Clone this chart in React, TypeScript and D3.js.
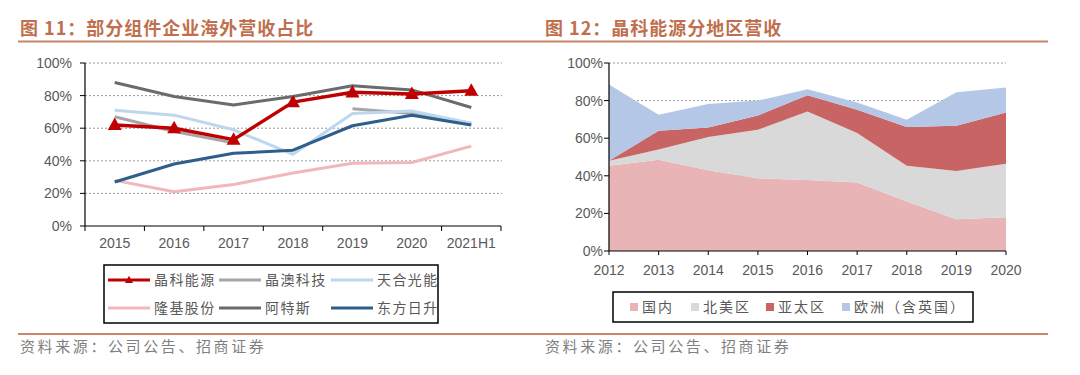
import React from "react";
import * as d3 from "d3";

const leftYears = ["2015", "2016", "2017", "2018", "2019", "2020", "2021H1"];
const jinko = [62, 60, 53, 76, 82, 81, 83];
const jaSolar: (number | null)[] = [67, 58, 51, null, 72, 69, 63];
const trina = [71, 68, 59, 44, 69, 70.5, 63];
const longi = [28, 21, 25.5, 32.5, 38.5, 39, 49];
const canadian = [88, 79.5, 74.3, 79.5, 86, 83.5, 72.7];
const risen = [27, 38, 44.6, 46.5, 61.5, 68, 62];
const leftTicks = [0, 20, 40, 60, 80, 100];

const rightYears = ["2012", "2013", "2014", "2015", "2016", "2017", "2018", "2019", "2020"];
const domestic = [45.3, 48.5, 43, 38.7, 37.8, 36.4, 26.3, 16.9, 18];
const northAmerica = [2.7, 5.5, 17.6, 25.8, 36.4, 26.3, 19, 25.7, 28.4];
const asiaPacific = [0, 10, 5.1, 7.6, 8.6, 12.4, 20.6, 24, 27.3];
const europe = [40.5, 8.5, 12.5, 7.9, 3.3, 3.9, 3.9, 17.9, 13.3];
const rightTicks = [0, 20, 40, 60, 80, 100];

const lineSeries = [
  { name: "晶澳科技", data: jaSolar, color: "#a6a6a6", width: 3 },
  { name: "天合光能", data: trina, color: "#bdd7ee", width: 3 },
  { name: "隆基股份", data: longi, color: "#f2b7b8", width: 3 },
  { name: "阿特斯", data: canadian, color: "#6b6b6b", width: 3 },
  { name: "东方日升", data: risen, color: "#2e5e8c", width: 3 },
  { name: "晶科能源", data: jinko, color: "#c00000", width: 3.5 },
];

const legendLeft = [
  { name: "晶科能源", color: "#c00000", tri: true },
  { name: "晶澳科技", color: "#a6a6a6" },
  { name: "天合光能", color: "#bdd7ee" },
  { name: "隆基股份", color: "#f2b7b8" },
  { name: "阿特斯", color: "#6b6b6b" },
  { name: "东方日升", color: "#2e5e8c" },
];

const areaSeries = [
  { name: "国内", data: domestic, color: "#e8b4b5" },
  { name: "北美区", data: northAmerica, color: "#d9d9d9" },
  { name: "亚太区", data: asiaPacific, color: "#c96464" },
  { name: "欧洲（含英国）", data: europe, color: "#b4c7e7" },
];

const TITLE = "#bf6f4e";
const AXIS_TXT = "#595959";
const LATIN = "'Liberation Sans', Arial, sans-serif";
const CJK = "'Noto Sans CJK SC', sans-serif";

export default function App() {
  const lx = d3.scaleBand<string>().domain(leftYears).range([85, 501]);
  const ly = d3.scaleLinear().domain([0, 100]).range([226, 63]);
  const line = d3
    .line<number | null>()
    .defined((d) => d !== null)
    .x((_, i) => (lx(leftYears[i]) as number) + lx.bandwidth() / 2)
    .y((d) => ly(d as number));

  const rx = d3.scalePoint<string>().domain(rightYears).range([609, 1006]);
  const ry = d3.scaleLinear().domain([0, 100]).range([251, 63]);
  const table = rightYears.map((y, i) => {
    const o: Record<string, number> = {};
    areaSeries.forEach((s) => (o[s.name] = s.data[i]));
    return o;
  });
  const stacked = d3.stack<Record<string, number>>().keys(areaSeries.map((s) => s.name))(table);
  const area = d3
    .area<d3.SeriesPoint<Record<string, number>>>()
    .x((_, i) => rx(rightYears[i]) as number)
    .y0((d) => ry(d[0]))
    .y1((d) => ry(d[1]));

  const tri = (cx: number, cy: number, s: number) =>
    `M${cx},${cy - s * 0.62} L${cx + s * 0.58},${cy + s * 0.42} L${cx - s * 0.58},${cy + s * 0.42} Z`;

  const legX = [108, 219, 331];
  const legRowY = [280, 308];
  const rightLegX = [630, 691, 766, 842];

  return (
    <svg
      width={1080}
      height={375}
      style={{ position: "absolute", left: 0, top: 0, display: "block", background: "#fff" }}
    >
      <text x={20} y={35} fill={TITLE} fontFamily={CJK} fontWeight="bold" fontSize={18} letterSpacing={1}>
        图 11：部分组件企业海外营收占比
      </text>
      <text x={545} y={35} fill={TITLE} fontFamily={CJK} fontWeight="bold" fontSize={18} letterSpacing={1}>
        图 12：晶科能源分地区营收
      </text>
      <line x1={18} x2={1048} y1={41.5} y2={41.5} stroke="#c98669" strokeWidth={2} />
      <line x1={18} x2={1048} y1={334} y2={334} stroke="#c98669" strokeWidth={2} />

      {/* Left chart */}
      {leftTicks.map((t) => (
        <g key={"lg" + t}>
          {t > 0 && (
            <line x1={85} x2={502} y1={ly(t)} y2={ly(t)} stroke="#7f7f7f" strokeWidth={0.8} strokeDasharray="2,2" />
          )}
          <line x1={80} x2={85} y1={ly(t)} y2={ly(t)} stroke="#000" strokeWidth={1} />
          <text x={72} y={ly(t)} dy="0.35em" textAnchor="end" fill={AXIS_TXT} fontFamily={LATIN} fontSize={14}>
            {t}%
          </text>
        </g>
      ))}
      <line x1={85} x2={85} y1={63} y2={226} stroke="#000" strokeWidth={1.2} />
      <line x1={85} x2={501} y1={226} y2={226} stroke="#000" strokeWidth={1.2} />
      {[...leftYears.map((y) => lx(y) as number), 501].map((x, i) => (
        <line key={"lt" + i} x1={x} x2={x} y1={226} y2={231} stroke="#000" strokeWidth={1} />
      ))}
      {leftYears.map((y) => (
        <text
          key={"lx" + y}
          x={(lx(y) as number) + lx.bandwidth() / 2}
          y={248}
          textAnchor="middle"
          fill={AXIS_TXT}
          fontFamily={LATIN}
          fontSize={14}
        >
          {y}
        </text>
      ))}
      {lineSeries.map((s) => (
        <path
          key={s.name}
          d={line(s.data) || ""}
          fill="none"
          stroke={s.color}
          strokeWidth={s.width}
          strokeLinejoin="round"
        />
      ))}
      {jinko.map((v, i) => (
        <path
          key={"tri" + i}
          d={tri((lx(leftYears[i]) as number) + lx.bandwidth() / 2, ly(v), 12)}
          fill="#c00000"
        />
      ))}

      {/* Left legend */}
      <rect x={104} y={265} width={334} height={58} fill="#fff" stroke="#000" strokeWidth={1.5} />
      {legendLeft.map((l, i) => {
        const x = legX[i % 3];
        const y = legRowY[Math.floor(i / 3)];
        return (
          <g key={"ll" + l.name}>
            <line x1={x} x2={x + 42} y1={y} y2={y} stroke={l.color} strokeWidth={3} />
            {l.tri && <path d={tri(x + 21, y, 7)} fill={l.color} />}
            <text x={x + 46} y={y} dy="0.36em" fill={AXIS_TXT} fontFamily={CJK} fontSize={14} letterSpacing={1.4}>
              {l.name}
            </text>
          </g>
        );
      })}

      {/* Right chart */}
      {rightTicks.map((t) =>
        t > 0 ? (
          <line key={"rg" + t} x1={609} x2={1006} y1={ry(t)} y2={ry(t)} stroke="#7f7f7f" strokeWidth={0.8} strokeDasharray="2,2" />
        ) : null
      )}
      {stacked.map((layer, i) => (
        <path key={"a" + i} d={area(layer) || ""} fill={areaSeries[i].color} />
      ))}
      {rightTicks.map((t) => (
        <g key={"ry" + t}>
          <line x1={604} x2={609} y1={ry(t)} y2={ry(t)} stroke="#000" strokeWidth={1} />
          <text x={603} y={ry(t)} dy="0.35em" textAnchor="end" fill={AXIS_TXT} fontFamily={LATIN} fontSize={14}>
            {t}%
          </text>
        </g>
      ))}
      <line x1={609} x2={609} y1={63} y2={251} stroke="#000" strokeWidth={1.2} />
      <line x1={609} x2={1006} y1={251} y2={251} stroke="#000" strokeWidth={1.2} />
      {rightYears.map((y) => (
        <g key={"rx" + y}>
          <line x1={rx(y) as number} x2={rx(y) as number} y1={251} y2={255} stroke="#000" strokeWidth={1} />
          <text x={rx(y) as number} y={275} textAnchor="middle" fill={AXIS_TXT} fontFamily={LATIN} fontSize={14}>
            {y}
          </text>
        </g>
      ))}

      {/* Right legend */}
      <rect x={613} y={292} width={360} height={30} fill="#fff" stroke="#000" strokeWidth={1.5} />
      {areaSeries.map((s, i) => (
        <g key={"rl" + s.name}>
          <rect x={rightLegX[i]} y={303} width={8} height={8} fill={s.color} />
          <text x={rightLegX[i] + 12} y={307} dy="0.36em" fill={AXIS_TXT} fontFamily={CJK} fontSize={14} letterSpacing={2}>
            {s.name}
          </text>
        </g>
      ))}

      {/* Sources */}
      <text x={20} y={352} fill="#7f7f7f" fontFamily={CJK} fontSize={15} letterSpacing={2.6}>
        资料来源：公司公告、招商证券
      </text>
      <text x={545} y={352} fill="#7f7f7f" fontFamily={CJK} fontSize={15} letterSpacing={2.6}>
        资料来源：公司公告、招商证券
      </text>
    </svg>
  );
}
